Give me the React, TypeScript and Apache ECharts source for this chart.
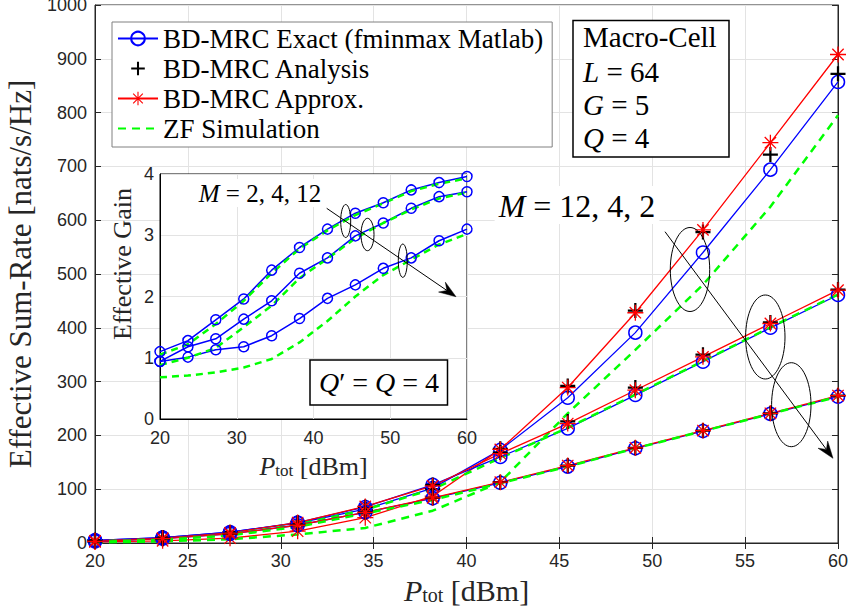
import React, { useEffect, useRef } from 'react';
import * as echarts from 'echarts';

const P_TOT = [20, 23.64, 27.27, 30.91, 34.55, 38.18, 41.82, 45.45, 49.09, 52.73, 56.36, 60];

const EXACT_M12 = [5, 10, 20, 37, 63, 102, 173, 270, 391, 540, 694, 857];
const ANALYSIS_M12 = [5, 10, 19, 35, 61, 100, 175, 292, 432, 578, 722, 872];
const APPROX_M12 = [2, 4, 9, 22, 47, 87, 174, 289, 428, 582, 744, 908];
const ZF_M12 = [1, 3, 7, 16, 28, 60, 113, 241, 359, 480, 625, 795];

const EXACT_M4 = [5, 10, 20, 38, 67, 108, 160, 213, 275, 337, 400, 461];
const ANALYSIS_M4 = [5, 10, 20, 38, 67, 108, 168, 226, 289, 350, 410, 471];
const APPROX_M4 = [4, 9, 19, 38, 68, 106, 166, 222, 284, 346, 408, 470];
const ZF_M4 = [3, 7, 16, 34, 62, 100, 158, 214, 276, 338, 401, 462];

const EXACT_M2 = [3, 8, 17, 33, 57, 83, 112, 142, 176, 208, 240, 272];
const ANALYSIS_M2 = [3, 8, 17, 33, 57, 84, 113, 144, 177, 209, 241, 274];
const APPROX_M2 = [3, 8, 17, 33, 57, 84, 113, 144, 177, 209, 241, 274];
const ZF_M2 = [2, 6, 14, 30, 55, 80, 111, 142, 176, 208, 240, 272];

const GAIN_EXACT_M2 = [1.1, 1.28, 1.62, 1.96, 2.43, 2.8, 3.1, 3.36, 3.53, 3.74, 3.86, 3.96];
const GAIN_EXACT_M4 = [0.94, 1.18, 1.31, 1.63, 1.93, 2.38, 2.63, 2.99, 3.2, 3.44, 3.63, 3.71];
const GAIN_EXACT_M12 = [0.94, 1.01, 1.13, 1.18, 1.36, 1.64, 1.97, 2.19, 2.46, 2.63, 2.91, 3.1];
const GAIN_ZF_M2 = [1.05, 1.22, 1.55, 1.93, 2.38, 2.78, 3.08, 3.33, 3.52, 3.72, 3.84, 3.93];
const GAIN_ZF_M4 = [0.88, 1.0, 1.16, 1.5, 1.85, 2.3, 2.62, 2.95, 3.2, 3.42, 3.6, 3.7];
const GAIN_ZF_M12 = [0.68, 0.71, 0.76, 0.84, 0.98, 1.25, 1.6, 2.0, 2.35, 2.6, 2.85, 3.02];

const LEGEND_NAMES = ['BD-MRC Exact (fminmax Matlab)', 'BD-MRC Analysis', 'BD-MRC Approx.', 'ZF Simulation'];

const SERIF = 'Liberation Serif, Times New Roman, serif';
const SANS = 'Liberation Sans, Arial, Helvetica, sans-serif';
const AX = '#262626';
const GRIDC = '#e3e3e3';
const BLUE = '#0000ff';
const RED = '#ff0000';
const GREEN = '#00ff00';

const PLUS = 'path://M8.5,0H11.5V8.5H20V11.5H11.5V20H8.5V11.5H0V8.5H8.5Z';
const ASTER =
  'path://M0,9.2H20V10.8H0Z M9.2,0H10.8V20H9.2Z M3.47,2.33L17.67,16.53L16.53,17.67L2.33,3.47Z M16.53,2.33L17.67,3.47L3.47,17.67L2.33,16.53Z';

const pair = (ys: number[]) => P_TOT.map((x, i) => [x, ys[i]]);

function mainGroup(exact: number[], analysis: number[], approx: number[], zf: number[]) {
  const common = { type: 'line', xAxisIndex: 0, yAxisIndex: 0, silent: true };
  return [
    {
      ...common,
      name: LEGEND_NAMES[0],
      data: pair(exact),
      symbol: 'circle',
      symbolSize: 13,
      itemStyle: { color: 'rgba(0,0,0,0)', borderColor: BLUE, borderWidth: 1.5 },
      lineStyle: { color: BLUE, width: 1.3 },
    },
    {
      ...common,
      name: LEGEND_NAMES[1],
      data: pair(analysis),
      symbol: PLUS,
      symbolSize: 15,
      itemStyle: { color: '#000' },
      lineStyle: { width: 0, opacity: 0 },
    },
    {
      ...common,
      name: LEGEND_NAMES[2],
      data: pair(approx),
      symbol: ASTER,
      symbolSize: 16,
      itemStyle: { color: RED },
      lineStyle: { color: RED, width: 1.3 },
    },
    {
      ...common,
      name: LEGEND_NAMES[3],
      data: pair(zf),
      symbol: 'circle',
      symbolSize: 0,
      showSymbol: false,
      itemStyle: { color: 'rgba(0,0,0,0)' },
      lineStyle: { color: GREEN, width: 2.5, type: [8, 6] },
    },
  ];
}

function insetSeries(name: string, ys: number[], zf: boolean) {
  const base: any = {
    type: 'line',
    name,
    xAxisIndex: 1,
    yAxisIndex: 1,
    z: 6,
    silent: true,
    data: pair(ys),
  };
  if (zf) {
    return {
      ...base,
      symbol: 'none',
      lineStyle: { color: GREEN, width: 2.5, type: [7, 5] },
    };
  }
  return {
    ...base,
    symbol: 'circle',
    symbolSize: 10,
    itemStyle: { color: 'rgba(0,0,0,0)', borderColor: BLUE, borderWidth: 1.5 },
    lineStyle: { color: BLUE, width: 1.5 },
  };
}

function arrow(x1: number, y1: number, x2: number, y2: number, len: number, half: number) {
  const dx = x2 - x1;
  const dy = y2 - y1;
  const L = Math.hypot(dx, dy);
  const ux = dx / L;
  const uy = dy / L;
  const px = -uy;
  const py = ux;
  const bx = x2 - ux * len;
  const by = y2 - uy * len;
  const nx = x2 - ux * len * 0.65;
  const ny = y2 - uy * len * 0.65;
  return [
    { type: 'line', z: 100, shape: { x1, y1, x2: nx, y2: ny }, style: { stroke: '#000', lineWidth: 1 } },
    {
      type: 'polygon',
      z: 100,
      shape: {
        points: [
          [x2, y2],
          [bx + px * half, by + py * half],
          [nx, ny],
          [bx - px * half, by - py * half],
        ],
      },
      style: { fill: '#000', stroke: '#000', lineWidth: 0.5 },
    },
  ];
}

function ell(cx: number, cy: number, rx: number, ry: number) {
  return {
    type: 'ellipse',
    z: 100,
    shape: { cx, cy, rx, ry },
    style: { fill: 'none', stroke: '#000', lineWidth: 1 },
  };
}

function mathText(x: number, y: number, text: string, size: number, extra: any = {}) {
  return {
    type: 'text',
    z: 101,
    x,
    y,
    style: {
      text,
      fontSize: size,
      fontFamily: SERIF,
      fill: '#000',
      align: extra.align || 'left',
      verticalAlign: 'middle',
      textAlign: extra.align || 'left',
      textVerticalAlign: 'middle',
      backgroundColor: extra.bg,
      padding: extra.padding,
      rich: {
        i: { fontSize: size, fontFamily: SERIF, fontStyle: 'italic', fill: '#000' },
        n: { fontSize: size, fontFamily: SERIF, fill: '#000' },
      },
    },
  };
}

export default function App() {
  const ref = useRef<HTMLDivElement>(null);

  useEffect(() => {
    if (!ref.current) return;
    const chart = echarts.init(ref.current, null, { renderer: 'svg' });

    const tickLabel = { fontFamily: SANS, fontSize: 18, color: AX, formatter: (v: number) => String(v) };

    const option: any = {
      animation: false,
      backgroundColor: '#fff',
      textStyle: { fontFamily: SERIF },
      grid: [
        {
          left: 95,
          top: 5,
          right: 10,
          bottom: 69,
          show: true,
          borderColor: AX,
          borderWidth: 1,
          backgroundColor: 'rgba(0,0,0,0)',
          containLabel: false,
          outerBoundsMode: 'none',
        },
        {
          left: 160,
          top: 174,
          width: 307,
          height: 245,
          show: true,
          z: 3,
          backgroundColor: '#fff',
          borderColor: '#000',
          borderWidth: 1,
          containLabel: false,
          outerBoundsMode: 'none',
        },
      ],
      legend: {
        data: LEGEND_NAMES,
        orient: 'vertical',
        left: 112,
        top: 22,
        padding: [3, 9, 5, 5],
        itemWidth: 40,
        itemHeight: 17,
        itemGap: 3,
        backgroundColor: '#fff',
        borderColor: '#808080',
        borderWidth: 1,
        selectedMode: false,
        formatter: (name: string) => `{n|${name}}`,
        textStyle: {
          fontFamily: SERIF,
          fontSize: 27,
          lineHeight: 26,
          color: '#000',
          rich: { n: { fontFamily: SERIF, fontSize: 27, lineHeight: 26, color: '#000' } },
        },
      },
      xAxis: [
        {
          type: 'value',
          gridIndex: 0,
          min: 20,
          max: 60,
          interval: 5,
          axisLine: { show: true, lineStyle: { color: AX, width: 1 } },
          axisTick: { show: true, inside: true, length: 6, lineStyle: { color: AX } },
          axisLabel: { ...tickLabel, margin: 9 },
          splitLine: { show: true, lineStyle: { color: GRIDC, width: 1 } },
          name: '{i|P}{s|tot}{n| [dBm]}',
          nameLocation: 'middle',
          nameGap: 32,
          nameTextStyle: {
            fontFamily: SERIF,
            fontSize: 30,
            color: AX,
            rich: {
              i: { fontFamily: SERIF, fontSize: 30, lineHeight: 30, fontStyle: 'italic', color: AX },
              s: { fontFamily: SERIF, fontSize: 20, lineHeight: 16, verticalAlign: 'bottom', color: AX },
              n: { fontFamily: SERIF, fontSize: 30, lineHeight: 30, color: AX },
            },
          },
        },
        {
          type: 'value',
          gridIndex: 1,
          min: 20,
          max: 60,
          interval: 10,
          z: 4,
          axisLine: { show: true, lineStyle: { color: '#000', width: 1 } },
          axisTick: { show: false },
          axisLabel: { ...tickLabel, margin: 10 },
          splitLine: { show: true, lineStyle: { color: GRIDC, width: 1 } },
          name: '{i|P}{s|tot}{n| [dBm]}',
          nameLocation: 'middle',
          nameGap: 34,
          nameTextStyle: {
            fontFamily: SERIF,
            fontSize: 26,
            color: AX,
            rich: {
              i: { fontFamily: SERIF, fontSize: 26, lineHeight: 26, fontStyle: 'italic', color: AX },
              s: { fontFamily: SERIF, fontSize: 17, lineHeight: 14, verticalAlign: 'bottom', color: AX },
              n: { fontFamily: SERIF, fontSize: 26, lineHeight: 26, color: AX },
            },
          },
        },
        {
          type: 'value',
          gridIndex: 0,
          position: 'top',
          min: 20,
          max: 60,
          interval: 5,
          axisLine: { show: true, lineStyle: { color: AX, width: 1 } },
          axisTick: { show: true, inside: true, length: 6, lineStyle: { color: AX } },
          axisLabel: { show: false },
          splitLine: { show: false },
        },
      ],
      yAxis: [
        {
          type: 'value',
          gridIndex: 0,
          min: 0,
          max: 1000,
          interval: 100,
          axisLine: { show: true, lineStyle: { color: AX, width: 1 } },
          axisTick: { show: true, inside: true, length: 6, lineStyle: { color: AX } },
          axisLabel: { ...tickLabel, margin: 8 },
          splitLine: { show: true, lineStyle: { color: GRIDC, width: 1 } },
          name: '{n|Effective Sum-Rate [nats/s/Hz]}',
          nameLocation: 'middle',
          nameGap: 57,
          nameTextStyle: {
            fontFamily: SERIF,
            fontSize: 31,
            color: AX,
            rich: { n: { fontFamily: SERIF, fontSize: 31, lineHeight: 31, color: AX } },
          },
        },
        {
          type: 'value',
          gridIndex: 1,
          min: 0,
          max: 4,
          interval: 1,
          z: 4,
          axisLine: { show: true, lineStyle: { color: '#000', width: 1 } },
          axisTick: { show: false },
          axisLabel: { ...tickLabel, margin: 6 },
          splitLine: { show: true, lineStyle: { color: GRIDC, width: 1 } },
        },
        {
          type: 'value',
          gridIndex: 0,
          position: 'right',
          min: 0,
          max: 1000,
          interval: 100,
          axisLine: { show: true, lineStyle: { color: AX, width: 1 } },
          axisTick: { show: true, inside: true, length: 6, lineStyle: { color: AX } },
          axisLabel: { show: false },
          splitLine: { show: false },
        },
      ],
      series: [
        ...mainGroup(EXACT_M12, ANALYSIS_M12, APPROX_M12, ZF_M12),
        ...mainGroup(EXACT_M4, ANALYSIS_M4, APPROX_M4, ZF_M4),
        ...mainGroup(EXACT_M2, ANALYSIS_M2, APPROX_M2, ZF_M2),
        insetSeries('Gain Exact M=2', GAIN_EXACT_M2, false),
        insetSeries('Gain Exact M=4', GAIN_EXACT_M4, false),
        insetSeries('Gain Exact M=12', GAIN_EXACT_M12, false),
        insetSeries('Gain ZF M=2', GAIN_ZF_M2, true),
        insetSeries('Gain ZF M=4', GAIN_ZF_M4, true),
        insetSeries('Gain ZF M=12', GAIN_ZF_M12, true),
      ],
      graphic: [
        {
          type: 'rect',
          z: 100,
          shape: { x: 573, y: 20.5, width: 156, height: 136.5 },
          style: { fill: '#fff', stroke: '#000', lineWidth: 1.5 },
        },
        mathText(583, 37, '{n|Macro-Cell}', 29),
        mathText(583, 71.5, '{i|L}{n| = 64}', 29),
        mathText(583, 105, '{i|G}{n| = 5}', 29),
        mathText(583, 138, '{i|Q}{n| = 4}', 29),
        {
          type: 'rect',
          z: 100,
          shape: { x: 310, y: 360, width: 137.5, height: 45 },
          style: { fill: '#fff', stroke: '#000', lineWidth: 1.5 },
        },
        mathText(379, 382.5, '{i|Q}{n|′ = }{i|Q}{n| = 4}', 28, { align: 'center' }),
        mathText(577, 205, '{i|M}{n| = 12, 4, 2}', 32, { align: 'center', bg: '#fff', padding: [4, 4, 2, 4] }),
        mathText(260, 193, '{i|M}{n| = 2, 4, 12}', 25, { align: 'center', bg: '#fff', padding: [2, 3, 1, 3] }),
        {
          type: 'text',
          z: 101,
          x: 122,
          y: 264,
          rotation: Math.PI / 2,
          style: {
            text: 'Effective Gain',
            fontSize: 26,
            fontFamily: SERIF,
            fill: AX,
            align: 'center',
            verticalAlign: 'middle',
            textAlign: 'center',
            textVerticalAlign: 'middle',
          },
        },
        ell(690, 269.5, 19.7, 42),
        ell(765.3, 337, 19.7, 42),
        ell(791.3, 404.7, 19.7, 42),
        ...arrow(665, 231.7, 833, 458.3, 17, 6),
        ell(345.7, 221, 5, 16.5),
        ell(367.5, 234.5, 6.5, 16.2),
        ell(402.8, 260.7, 4.5, 16.7),
        ...arrow(326.7, 208.3, 456, 296.7, 17, 6),
      ],
    };

    chart.setOption(option);
    return () => {
      chart.dispose();
    };
  }, []);

  return (
    <div
      ref={ref}
      style={{ position: 'fixed', left: 0, top: 0, width: 848, height: 612, background: '#fff' }}
    />
  );
}
